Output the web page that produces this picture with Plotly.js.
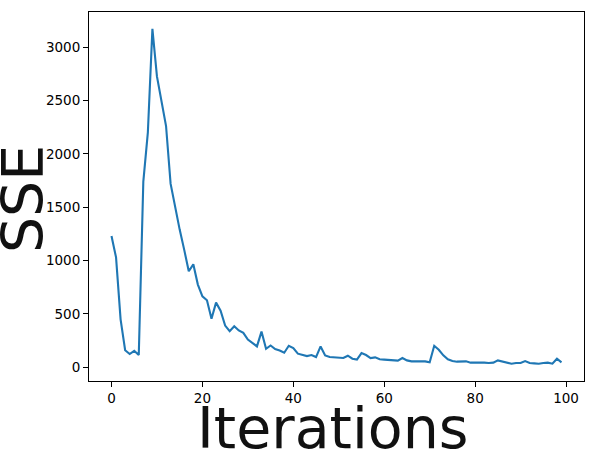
<!DOCTYPE html>
<html>
<head>
<meta charset="utf-8">
<script src="https://cdn.plot.ly/plotly-3.0.1.min.js"></script>
<style>
html,body{margin:0;padding:0;background:#fff;}
#chart{width:599px;height:458px;}
</style>
</head>
<body>
<div id="chart"></div>
<script>
var iterations = [];
for (var i = 0; i < 100; i++) iterations.push(i);
var sse = [
  1230, 1030, 450, 160, 125, 155, 115, 1740, 2200, 3170,
  2725, 2505, 2260, 1720, 1490, 1290, 1100, 900, 965, 775,
  665, 628, 455, 606, 531, 391, 339, 385, 345, 323,
  261, 230, 196, 335, 174, 205, 171, 158, 137, 202,
  180, 128, 118, 105, 115, 96, 196, 112, 96, 93,
  84, 87, 109, 81, 72, 133, 115, 87, 93, 75,
  72, 69, 67, 63, 87, 65, 56, 56, 56, 56,
  47, 202, 165, 112, 75, 59, 53, 53, 56, 44,
  44, 50, 44, 40, 44, 65, 53, 40, 34, 40,
  40, 59, 40, 37, 34, 40, 44, 34, 81, 47
];
var xTicks = [0, 20, 40, 60, 80, 100];
var yTicks = [0, 500, 1000, 1500, 2000, 2500, 3000];
var xTitle = 'Iterations';
var yTitle = 'SSE';

var trace = {
  x: iterations,
  y: sse,
  type: 'scatter',
  mode: 'lines',
  line: {color: '#1f77b4', width: 2.1},
  hoverinfo: 'x+y'
};

var axisCommon = {
  showgrid: false,
  zeroline: false,
  showline: true,
  linecolor: '#000',
  linewidth: 1,
  mirror: true,
  ticks: 'outside',
  ticklen: 5,
  tickwidth: 1,
  tickcolor: '#000',
  tickfont: {family: 'DejaVu Sans', size: 13.5, color: '#000'}
};

var titleFont = {family: 'DejaVu Sans', size: 57, color: '#111'};

var layout = {
  width: 599,
  height: 458,
  margin: {l: 89, r: 15, t: 12, b: 77, pad: 0},
  paper_bgcolor: '#fff',
  plot_bgcolor: '#fff',
  showlegend: false,
  font: {family: 'DejaVu Sans', color: '#000'},
  xaxis: Object.assign({}, axisCommon, {
    range: [-4.95, 103.95],
    tickmode: 'array',
    tickvals: xTicks,
    ticktext: xTicks.map(String)
  }),
  yaxis: Object.assign({}, axisCommon, {
    range: [-128, 3328],
    tickmode: 'array',
    tickvals: yTicks,
    ticktext: yTicks.map(String)
  }),
  annotations: [
    {
      text: xTitle, xref: 'paper', yref: 'paper',
      x: 0.491, y: -0.1268, xanchor: 'center', yanchor: 'middle',
      showarrow: false, font: titleFont
    },
    {
      text: yTitle, xref: 'paper', yref: 'paper', textangle: -90,
      x: -0.1337, y: 0.4924, xanchor: 'center', yanchor: 'middle',
      showarrow: false, font: titleFont
    }
  ]
};

Plotly.newPlot('chart', [trace], layout, {displayModeBar: false, staticPlot: true});
</script>
</body>
</html>
